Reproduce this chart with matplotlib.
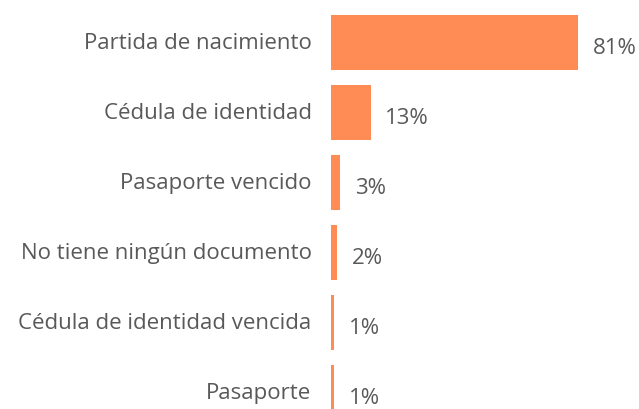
import matplotlib
matplotlib.use("Agg")
import matplotlib.pyplot as plt

categories = [
    "Partida de nacimiento",
    "Cédula de identidad",
    "Pasaporte vencido",
    "No tiene ningún documento",
    "Cédula de identidad vencida",
    "Pasaporte",
]
values = [81, 13, 3, 2, 1, 1]
value_labels = ["81%", "13%", "3%", "2%", "1%", "1%"]

bar_color = "#FF8C55"
text_color = "#595959"

plt.rcParams["font.family"] = ["Open Sans", "DejaVu Sans"]

fig = plt.figure(figsize=(6.39, 4.09), dpi=100)
ax = fig.add_axes([331 / 639, 0, 308 / 639, 1])

pos = list(range(len(categories)))
ax.barh(pos, values, height=55 / 70, color=bar_color)
ax.set_xlim(0, 308 / 3.05)
ax.set_ylim((409 - 42.5) / 70, -42.5 / 70)

for p, v, lab in zip(pos, values, value_labels):
    ax.annotate(lab, (v, p), xytext=(10.5, -4), textcoords="offset points",
                ha="left", va="center", fontsize=16, color=text_color)

for p, cat in zip(pos, categories):
    ax.annotate(cat, (0, p), xytext=(-14, -1), textcoords="offset points",
                ha="right", va="center", fontsize=16, color=text_color,
                annotation_clip=False)

ax.axis("off")
fig.savefig("out.png", dpi=100)
